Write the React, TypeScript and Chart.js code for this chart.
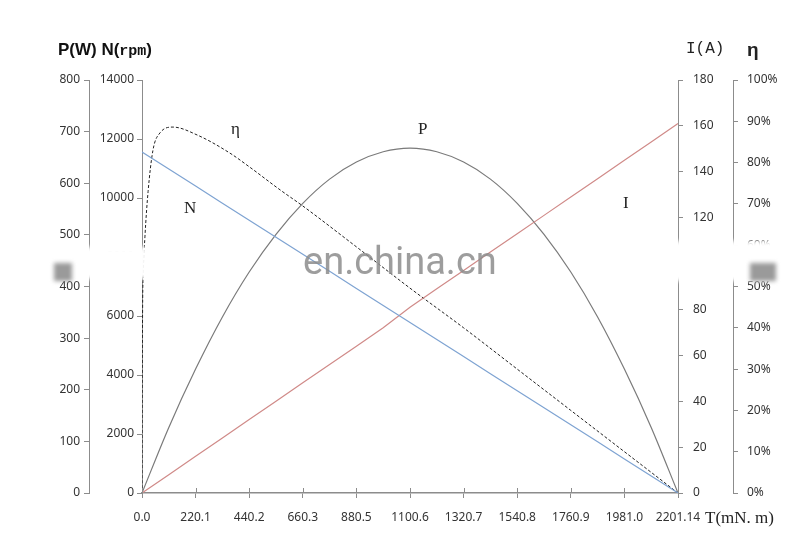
import React, { useEffect, useRef } from "react";
import { Chart, registerables } from "chart.js";

Chart.register(...registerables);

// Torque (mN.m) sample points
const torque = [0, 110.1, 220.1, 330.2, 440.2, 550.3, 660.3, 770.4, 880.5, 990.5, 1100.6, 1210.6, 1320.7, 1430.7, 1540.8, 1650.9, 1760.9, 1871.0, 1981.0, 2091.1, 2201.14];
// Speed N (rpm)
const speedN = [11560, 10982, 10404, 9826, 9248, 8670, 8092, 7514, 6936, 6358, 5780, 5202, 4624, 4046, 3468, 2890, 2312, 1734, 1156, 578, 0];
// Output power P (W)
const powerP = [0, 127, 240, 341, 428, 501, 561, 608, 641, 661, 668, 661, 641, 608, 561, 501, 428, 341, 240, 127, 0];
// Current I (A)
const currentI = [0, 8, 16, 24, 32, 40, 48, 56, 64, 72, 81, 89, 97, 105, 113, 121, 129, 137, 145, 153, 161];
// Efficiency curve
const etaTorque = [0, 1, 2.5, 5, 12, 25, 45, 74, 127, 226, 361, 440.2, 567, 660.3, 880.5, 1100.6, 1320.7, 1540.8, 1760.9, 1981.0, 2201.14];
const etaValues = [0, 25, 45, 53, 62, 73, 83, 87.2, 88.6, 86.7, 82.3, 79, 73.4, 69.5, 59.6, 49.6, 40, 30, 20, 10, 0];

const xTickValues = [0, 220.114, 440.228, 660.342, 880.456, 1100.57, 1320.684, 1540.798, 1760.912, 1981.026, 2201.14];
const xTickLabels = ["0.0", "220.1", "440.2", "660.3", "880.5", "1100.6", "1320.7", "1540.8", "1760.9", "1981.0", "2201.14"];

const toXY = (xs: number[], ys: number[]) => xs.map((x, i) => ({ x, y: ys[i] }));

const AXIS = "#8c8c8c";
const TICKFONT = { family: "'Noto Sans', 'Open Sans', sans-serif", size: 12 };
const TICKCOLOR = "#333";

const textPlugin = {
  id: "texts",
  afterDraw(chart: any) {
    const ctx = chart.ctx as CanvasRenderingContext2D;
    const x = chart.scales.x;
    const area = chart.chartArea;
    ctx.save();
    // upward part of x ticks
    ctx.strokeStyle = AXIS;
    ctx.lineWidth = 1;
    x.ticks.forEach((t: any) => {
      const px = Math.round(x.getPixelForValue(t.value)) + 0.5;
      ctx.beginPath();
      ctx.moveTo(px, area.bottom);
      ctx.lineTo(px, area.bottom - 5);
      ctx.stroke();
    });
    // watermark band (faded region) on the axis areas
    ctx.save();
    ctx.filter = "blur(2px)";
    ctx.fillStyle = "#fff";
    ctx.fillRect(40, 247, area.left - 40 + 5, 32);
    ctx.fillRect(area.right - 5, 241, 800 - area.right + 5, 40);
    ctx.fillStyle = "rgba(120,120,120,0.75)";
    ctx.fillRect(54, 263, 18, 18);
    ctx.fillRect(750, 263, 26, 18);
    ctx.restore();
    // watermark
    ctx.fillStyle = "rgba(140,140,140,0.85)";
    ctx.font = "38px 'Liberation Sans Narrow', 'Roboto', sans-serif";
    ctx.textBaseline = "middle";
    ctx.textAlign = "left";
    ctx.fillText("en.china.cn", 303, 264);
    // titles
    ctx.fillStyle = "#111";
    ctx.textBaseline = "alphabetic";
    ctx.font = "bold 17px 'Liberation Sans', Arial, sans-serif";
    ctx.fillText("P(W) N(", 58, 55);
    const w = ctx.measureText("P(W) N(").width;
    ctx.font = "bold 15px 'Liberation Mono', monospace";
    ctx.fillText("rpm", 58 + w, 55);
    const w2 = ctx.measureText("rpm").width;
    ctx.font = "bold 17px 'Liberation Sans', Arial, sans-serif";
    ctx.fillText(")", 58 + w + w2, 55);
    ctx.font = "16px 'Liberation Mono', monospace";
    ctx.fillStyle = "#222";
    ctx.fillText("I(A)", 686, 53);
    ctx.font = "bold 19px 'Liberation Sans', Arial, sans-serif";
    ctx.fillText("η", 747, 56);
    // axis title
    ctx.font = "17px 'Liberation Serif', serif";
    ctx.fillStyle = "#222";
    ctx.fillText("T(mN. m)", 705, 523);
    // curve labels
    ctx.font = "17px 'Liberation Serif', serif";
    ctx.fillStyle = "#222";
    ctx.fillText("η", 231, 134);
    ctx.fillText("P", 418, 134);
    ctx.fillText("N", 184, 213);
    ctx.fillText("I", 623, 208);
    ctx.restore();
  },
};

export default function App() {
  const ref = useRef<HTMLCanvasElement | null>(null);
  useEffect(() => {
    if (!ref.current) return;
    const common = {
      pointRadius: 0,
      borderWidth: 1.2,
      fill: false,
    };
    const chart = new Chart(ref.current, {
      type: "line",
      data: {
        datasets: [
          {
            label: "N",
            data: toXY(torque, speedN),
            yAxisID: "yN",
            borderColor: "#7ea3d2",
            ...common,
          },
          {
            label: "I",
            data: toXY(torque, currentI),
            yAxisID: "yI",
            borderColor: "#d08a88",
            ...common,
          },
          {
            label: "P",
            data: toXY(torque, powerP),
            yAxisID: "yP",
            borderColor: "#7a7a7a",
            cubicInterpolationMode: "monotone",
            ...common,
          },
          {
            label: "η",
            data: toXY(etaTorque, etaValues),
            yAxisID: "yE",
            borderColor: "#222",
            borderDash: [3, 2],
            cubicInterpolationMode: "monotone",
            ...common,
            borderWidth: 1,
          },
        ],
      },
      options: {
        animation: false,
        responsive: false,
        maintainAspectRatio: false,
        layout: { padding: { top: 80, left: 0, right: 0, bottom: 0 } },
        plugins: { legend: { display: false }, tooltip: { enabled: false } },
        scales: {
          x: {
            type: "linear",
            min: 0,
            max: 2201.14,
            afterBuildTicks: (s: any) => {
              s.ticks = xTickValues.map((v) => ({ value: v }));
            },
            afterFit: (s: any) => {
              s.height = 57;
            },
            ticks: {
              autoSkip: false,
              maxRotation: 0,
              padding: 12,
              font: TICKFONT,
              color: TICKCOLOR,
              callback: (_v: any, i: number) => xTickLabels[i],
            },
            grid: { drawOnChartArea: false, tickLength: 5, color: AXIS },
            border: { color: AXIS, width: 1.5 },
          },
          yP: {
            position: "left",
            weight: 1,
            min: 0,
            max: 800,
            afterBuildTicks: (s: any) => {
              s.ticks = [0, 100, 200, 300, 400, 500, 600, 700, 800].map((v) => ({ value: v }));
            },
            afterFit: (s: any) => {
              s.width = 89;
            },
            ticks: { padding: 4, font: TICKFONT, color: TICKCOLOR },
            grid: { drawOnChartArea: false, tickLength: 5, color: AXIS },
            border: { color: AXIS },
          },
          yN: {
            position: "left",
            weight: 0,
            min: 0,
            max: 14000,
            afterBuildTicks: (s: any) => {
              s.ticks = [0, 2000, 4000, 6000, 8000, 10000, 12000, 14000].map((v) => ({ value: v }));
            },
            afterFit: (s: any) => {
              s.width = 53;
            },
            ticks: { padding: 3, font: TICKFONT, color: TICKCOLOR, callback: (v: any) => String(v) },
            grid: { drawOnChartArea: false, tickLength: 5, color: AXIS },
            border: { color: AXIS },
          },
          yI: {
            position: "right",
            weight: 0,
            min: 0,
            max: 180,
            afterBuildTicks: (s: any) => {
              s.ticks = [0, 20, 40, 60, 80, 100, 120, 140, 160, 180].map((v) => ({ value: v }));
            },
            afterFit: (s: any) => {
              s.width = 55;
            },
            ticks: { padding: 10, font: TICKFONT, color: TICKCOLOR },
            grid: { drawOnChartArea: false, tickLength: 5, color: AXIS },
            border: { color: AXIS },
          },
          yE: {
            position: "right",
            weight: 1,
            min: 0,
            max: 100,
            afterBuildTicks: (s: any) => {
              s.ticks = [0, 10, 20, 30, 40, 50, 60, 70, 80, 90, 100].map((v) => ({ value: v }));
            },
            afterFit: (s: any) => {
              s.width = 67;
            },
            ticks: { padding: 9, font: TICKFONT, color: TICKCOLOR, callback: (v: any) => v + "%" },
            grid: { drawOnChartArea: false, tickLength: 5, color: AXIS },
            border: { color: AXIS },
          },
        },
      } as any,
      plugins: [textPlugin],
    });
    return () => chart.destroy();
  }, []);
  return (
    <div style={{ position: "fixed", left: 0, top: 0, width: 800, height: 550, background: "#fff" }}>
      <canvas ref={ref} width={800} height={550} style={{ display: "block" }} />
    </div>
  );
}
